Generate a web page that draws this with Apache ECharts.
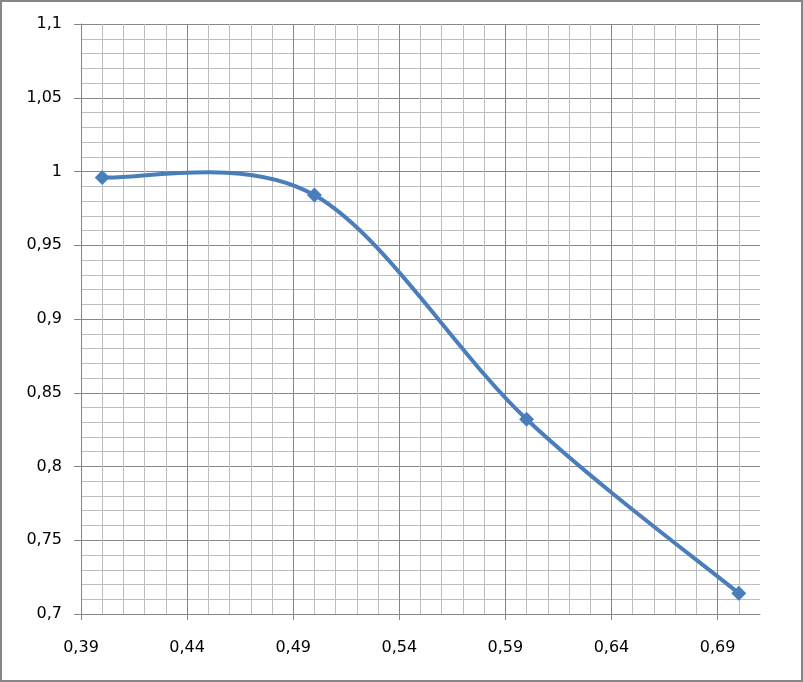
<!DOCTYPE html>
<html>
<head>
<meta charset="utf-8">
<script src="https://cdn.jsdelivr.net/npm/echarts@6/dist/echarts.min.js"></script>
<style>html,body{margin:0;padding:0;background:#fff}#c{width:803px;height:682px}</style>
</head>
<body>
<div id="c"></div>
<script>
// Data
const xValues = [0.40, 0.50, 0.60, 0.70];
const yValues = [0.996, 0.984, 0.832, 0.714];
// Axis settings
const xMin = 0.39, xMax = 0.71, xStep = 0.05;
const yMin = 0.7, yMax = 1.1, yStep = 0.05;

const fmt = v => String(+(+v).toFixed(2)).replace('.', ',');
const chart = echarts.init(document.getElementById('c'), null, {renderer: 'canvas'});
const major = '#878787', minor = '#bdbdbd', blue = '#4A7EBB';
const labelFont = {color: '#000', fontFamily: 'DejaVu Sans', fontSize: 16};
const pts = xValues.map((x, i) => [+(x - xMin).toFixed(4), yValues[i]]);
const xTicks = [];
for (let v = 0; v <= xMax - xMin - xStep + 1e-9; v += xStep) xTicks.push(+v.toFixed(4));
xTicks.push(+(Math.floor((xMax - xMin) / xStep) * xStep).toFixed(4));

// Excel-style smoothed segment (Catmull-Rom bezier) built from the data via the axis scales
function renderSeg(params, api) {
  const i = params.dataIndex;
  const n = pts.length;
  if (i >= n - 1) return {type: 'group', children: []};
  const P = k => api.coord(pts[Math.max(0, Math.min(n - 1, k))]);
  const p0 = P(i - 1), p1 = P(i), p2 = P(i + 1), p3 = P(i + 2);
  const c1 = [p1[0] + (p2[0] - p0[0]) / 6, p1[1] + (p2[1] - p0[1]) / 6];
  const c2 = [p2[0] - (p3[0] - p1[0]) / 6, p2[1] - (p3[1] - p1[1]) / 6];
  return {
    type: 'bezierCurve',
    shape: {x1: p1[0], y1: p1[1], x2: p2[0], y2: p2[1], cpx1: c1[0], cpy1: c1[1], cpx2: c2[0], cpy2: c2[1]},
    style: {stroke: blue, lineWidth: 4, fill: null, lineCap: 'round'}
  };
}

chart.setOption({
  animation: false,
  backgroundColor: '#fff',
  graphic: [{
    type: 'rect', silent: true, z: 100,
    shape: {x: 1, y: 1, width: 801, height: 680},
    style: {fill: 'none', stroke: '#868686', lineWidth: 2}
  }],
  grid: {left: 81, top: 24, right: 43, bottom: 68, containLabel: false},
  xAxis: {
    type: 'value',
    min: 0, max: +(xMax - xMin).toFixed(2), interval: xStep,
    axisLine: {show: true, onZero: false, lineStyle: {color: major, width: 1}},
    axisTick: {show: true, inside: false, length: 6, lineStyle: {color: major}, customValues: xTicks},
    axisLabel: Object.assign({margin: 26, showMaxLabel: false, formatter: v => fmt(v + xMin)}, labelFont),
    splitLine: {show: true, lineStyle: {color: major, width: 1}},
    minorTick: {show: false, splitNumber: 5},
    minorSplitLine: {show: true, lineStyle: {color: minor, width: 1}}
  },
  yAxis: {
    type: 'value',
    min: yMin, max: yMax, interval: yStep,
    axisLine: {show: true, lineStyle: {color: major, width: 1}},
    axisTick: {show: true, inside: false, length: 7, lineStyle: {color: major}},
    axisLabel: Object.assign({margin: 19, formatter: v => fmt(v)}, labelFont),
    splitLine: {show: true, lineStyle: {color: major, width: 1}},
    minorTick: {show: false, splitNumber: 5},
    minorSplitLine: {show: true, lineStyle: {color: minor, width: 1}}
  },
  series: [{
    type: 'custom',
    renderItem: renderSeg,
    data: pts,
    encode: {x: 0, y: 1},
    z: 2
  }, {
    type: 'scatter',
    data: pts,
    symbol: 'diamond',
    symbolSize: [15, 15],
    itemStyle: {color: blue, borderWidth: 0, opacity: 1},
    z: 3
  }]
});
</script>
</body>
</html>
